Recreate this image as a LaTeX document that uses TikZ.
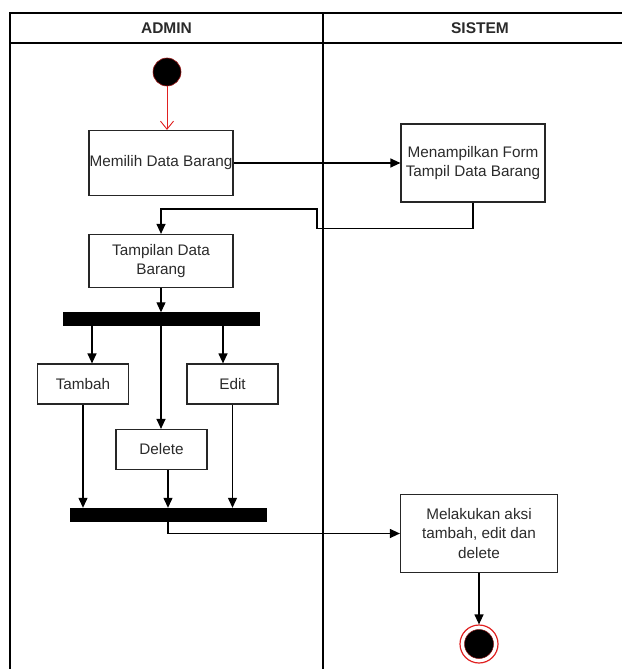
\documentclass[tikz,border=0pt]{standalone}
\usepackage{fontspec}
\setmainfont{Liberation Sans}
\usetikzlibrary{arrows.meta}
\definecolor{txt}{HTML}{2A2A2A}
\definecolor{ured}{HTML}{E02020}
\begin{document}
\begin{tikzpicture}[x=1pt,y=-1pt,
  box/.style={draw=black!85,line width=1.2pt,rectangle,inner sep=0pt,align=center,text=txt,font=\fontsize{15.3}{19.5}\selectfont},
  bar/.style={fill=black,draw=black,rectangle,inner sep=0pt,minimum width=196pt,minimum height=13pt},
  flow/.style={line width=1.2pt,-{Triangle[length=10pt,width=9pt]}},
  lane/.style={line width=1.2pt,draw=black}]
\useasboundingbox (0,0) rectangle (622,669);
% swimlanes
\draw[lane] (10,669) -- (10,13) -- (622,13);
\draw[lane] (10,43) -- (622,43);
\draw[lane] (323,13) -- (323,669);
\node[text=txt,font=\bfseries\fontsize{15.5}{17}\selectfont] (hadmin) at (166.5,28) {ADMIN};
\node[text=txt,font=\bfseries\fontsize{15.5}{17}\selectfont] (hsistem) at (480,28) {SISTEM};
% nodes
\node[circle,fill=black,draw=ured!70!black,line width=0.6pt,minimum size=28pt,inner sep=0pt] (start) at (167,72) {};
\node[box,minimum width=144pt,minimum height=65pt] (memilih) at (161,163) {Memilih Data Barang};
\node[box,minimum width=144pt,minimum height=78pt] (form) at (473,163) {Menampilkan Form\\Tampil Data Barang};
\node[box,minimum width=144pt,minimum height=53pt] (tampil) at (161,261) {Tampilan Data\\Barang};
\node[bar] (bar1) at (161,319) {};
\node[box,minimum width=91pt,minimum height=40pt] (tambah) at (83,384) {Tambah};
\node[box,minimum width=91pt,minimum height=40pt] (edit) at (232.5,384) {Edit};
\node[box,minimum width=91pt,minimum height=40pt] (delete) at (161.5,449.5) {Delete};
\node[bar] (bar2) at (168,514.5) {};
\node[box,minimum width=157pt,minimum height=78pt] (aksi) at (479,533.5) {Melakukan aksi\\tambah, edit dan\\delete};
\node[circle,draw=ured,line width=1.2pt,minimum size=38pt,inner sep=0pt] (endo) at (479,644) {};
\node[circle,fill=black,draw=ured!60!black,line width=0.5pt,minimum size=29pt,inner sep=0pt] (endi) at (479,644) {};
% connectors
\draw[line width=0.9pt,draw=ured,-{Straight Barb[length=8pt,width=13pt]}] (start) -- (start |- memilih.north);
\draw[flow] (memilih.east) -- (form.west);
\draw[flow] (form.south) -- ++(0,26) -| (317,209) -| (tampil.north);
\draw[flow] (tampil.south) -- (bar1.north);
\draw[flow] (bar1.south -| 92,0) -- (tambah.north -| 92,0);
\draw[flow] (bar1.south -| 161,0) -- (delete.north -| 161,0);
\draw[flow] (bar1.south -| 223,0) -- (edit.north -| 223,0);
\draw[flow] (tambah.south) -- (bar2.north -| tambah.south);
\draw[flow] (delete.south -| 168,0) -- (bar2.north -| 168,0);
\draw[flow] (edit.south) -- (bar2.north -| edit.south);
\draw[flow] (bar2.south) |- (aksi.west);
\draw[flow] (aksi.south) -- (endo.north);
\end{tikzpicture}
\end{document}
